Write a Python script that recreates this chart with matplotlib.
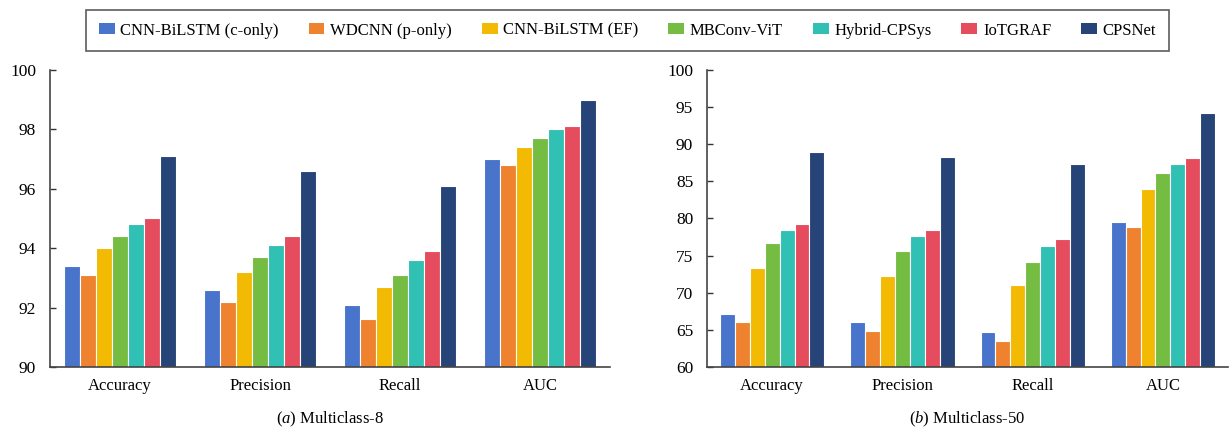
import matplotlib
matplotlib.use("Agg")
import matplotlib.pyplot as plt
import numpy as np

plt.rcParams['font.family'] = ['Liberation Serif', 'DejaVu Serif']
plt.rcParams['mathtext.fontset'] = 'custom'
plt.rcParams['mathtext.it'] = 'Liberation Serif:italic'
plt.rcParams['mathtext.rm'] = 'Liberation Serif'

metrics = ['Accuracy', 'Precision', 'Recall', 'AUC']
models = ['CNN-BiLSTM (c-only)', 'WDCNN (p-only)', 'CNN-BiLSTM (EF)',
          'MBConv-ViT', 'Hybrid-CPSys', 'IoTGRAF', 'CPSNet']
colors = ['#4874CB', '#EE822F', '#F2BA02', '#75BD42', '#30C0B4', '#E54C5E', '#264478']

# rows = models, columns = metrics
mc8 = [
    [93.4, 92.6, 92.1, 97.0],
    [93.1, 92.2, 91.6, 96.8],
    [94.0, 93.2, 92.7, 97.4],
    [94.4, 93.7, 93.1, 97.7],
    [94.8, 94.1, 93.6, 98.0],
    [95.0, 94.4, 93.9, 98.1],
    [97.1, 96.6, 96.1, 99.0],
]
mc50 = [
    [67.1, 66.0, 64.7, 79.5],
    [66.0, 64.9, 63.5, 78.8],
    [73.4, 72.3, 71.0, 84.0],
    [76.7, 75.6, 74.2, 86.1],
    [78.5, 77.7, 76.3, 87.4],
    [79.3, 78.5, 77.2, 88.2],
    [88.9, 88.3, 87.4, 94.2],
]


def draw_panel(ax, data, ylim, yticks, caption):
    x = np.arange(len(metrics))
    n = len(models)
    w = 0.8 / n
    for i, (name, vals) in enumerate(zip(models, data)):
        ax.bar(x - 0.4 + w * (i + 0.5), vals, width=w, color=colors[i],
               edgecolor='white', linewidth=0.8, label=name, zorder=2)
    ax.set_ylim(*ylim)
    ax.set_xlim(-0.5, 3.5)
    ax.set_yticks(yticks)
    ax.set_xticks(x)
    ax.set_xticklabels(metrics, fontsize=12)
    ax.tick_params(axis='y', labelsize=12.5, direction='in', length=4, width=1,
                   color='#333333', pad=10)
    ax.tick_params(axis='x', length=0, pad=8)
    for s in ['top', 'right']:
        ax.spines[s].set_visible(False)
    for s in ['left', 'bottom']:
        ax.spines[s].set_color('#444444')
        ax.spines[s].set_linewidth(1.2)
    ax.text(0.5, -0.178, caption, transform=ax.transAxes, ha='center', va='center',
            fontsize=12)


fig = plt.figure(figsize=(12.32, 4.34), dpi=100)
ax1 = fig.add_axes([0.0406, 0.1544, 0.4545, 0.6843])
ax2 = fig.add_axes([0.5739, 0.1544, 0.4229, 0.6843])

draw_panel(ax1, mc8, (90, 100), [90, 92, 94, 96, 98, 100],
           r'($\mathit{a}$) Multiclass-8')
draw_panel(ax2, mc50, (60, 100), [60, 65, 70, 75, 80, 85, 90, 95, 100],
           r'($\mathit{b}$) Multiclass-50')

handles, labels = ax1.get_legend_handles_labels()
leg = fig.legend(handles, labels, loc='center', bbox_to_anchor=(0.5093, 0.9297), ncol=7,
                 fontsize=12, frameon=True, fancybox=False, edgecolor='#333333',
                 handlelength=0.95, handleheight=0.66, columnspacing=1.78, handletextpad=0.35,
                 borderpad=0.75, borderaxespad=0)
leg.get_frame().set_linewidth(1.2)
for h in leg.legend_handles:
    h.set_edgecolor('none')

fig.savefig('out.png', dpi=100)
